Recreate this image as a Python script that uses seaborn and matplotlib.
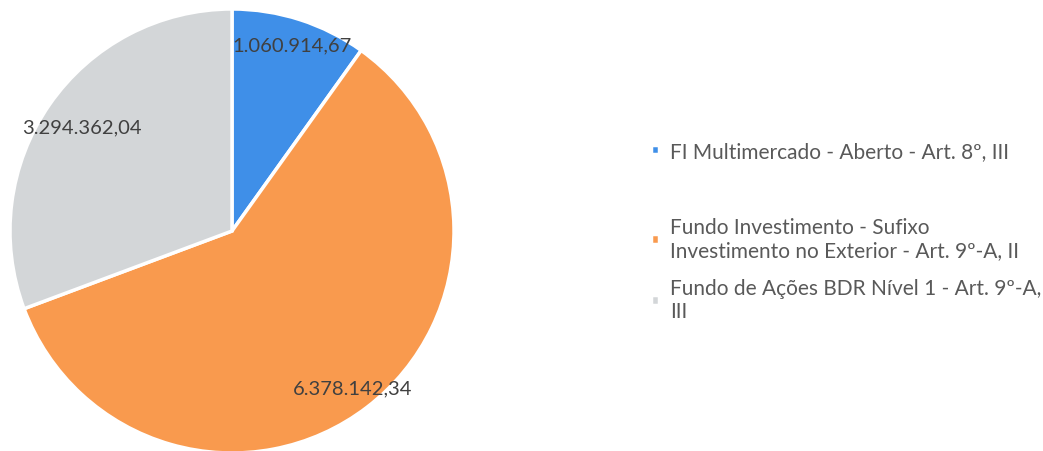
import matplotlib
matplotlib.use("Agg")
import matplotlib.pyplot as plt
import seaborn as sns
import numpy as np

sns.set_theme(style="white")
plt.rcParams['font.family'] = ['Lato', 'DejaVu Sans']

categories = [
    "FI Multimercado - Aberto - Art. 8º, III",
    "Fundo Investimento - Sufixo\nInvestimento no Exterior - Art. 9º-A, II",
    "Fundo de Ações BDR Nível 1 - Art. 9º-A,\nIII",
]
values = [1060914.67, 6378142.34, 3294362.04]
value_labels = ["1.060.914,67", "6.378.142,34", "3.294.362,04"]
colors = ["#3f8fe8", "#f99a4e", "#d3d6d8"]

fig = plt.figure(figsize=(10.43, 4.52), dpi=100)
ax = fig.add_axes([10/1043, -2/452, 444/1043, 444/452])
wedges, _ = ax.pie(values, colors=colors, startangle=90, counterclock=False,
                   radius=1, wedgeprops=dict(edgecolor="white", linewidth=2.5))
ax.set_xlim(-1, 1)
ax.set_ylim(-1, 1)
ax.set_aspect("equal")
ax.axis("off")

dists = [0.88, 0.89, 0.82]
for w, lab, d in zip(wedges, value_labels, dists):
    ang = np.deg2rad((w.theta1 + w.theta2) / 2)
    ax.text(d*np.cos(ang), d*np.sin(ang), lab, ha="center", va="center",
            fontsize=14.5, color="#404040")

common = dict(frameon=False, fontsize=15, labelcolor="#595959",
              handlelength=0.35, handleheight=0.35, handletextpad=0.55,
              labelspacing=0.85, borderaxespad=0, borderpad=0.4)
leg1 = fig.legend(wedges[:1], categories[:1], loc="center left",
                  bbox_to_anchor=(643/1043, 1 - 152/452), **common)
leg2 = fig.legend(wedges[1:], categories[1:], loc="center left",
                  bbox_to_anchor=(643/1043, 1 - 270/452), **common)
fig.savefig("out.png", dpi=100, facecolor="white")
